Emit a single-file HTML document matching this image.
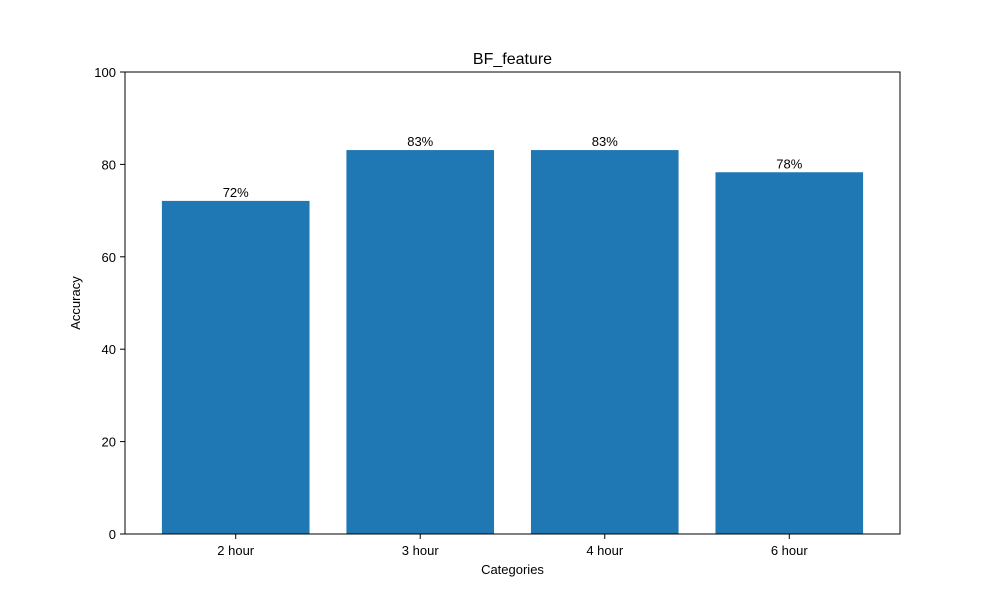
<!DOCTYPE html>
<html><head><meta charset="utf-8"><style>
body{margin:0;background:#fff;}
svg text{font-family:"Liberation Sans","DejaVu Sans",sans-serif;}
</style></head><body>
<svg id="chart" width="1000" height="600" viewBox="0 0 1000 600">
<rect width="1000" height="600" fill="#fff"/>
<g id="bars"></g>
<g id="axes"></g>
</svg>
<script>
const categories = ["2 hour","3 hour","4 hour","6 hour"];
const accuracy = [72.1, 83.1, 83.1, 78.3];
const valueLabels = ["72%","83%","83%","78%"];
const yTicks = [0,20,40,60,80,100];

const L=125,R=900,T=72,B=534;
const NS="http://www.w3.org/2000/svg";
const xScale=i=>L+(i+0.6)*(R-L)/(categories.length-1+1.2);
const yScale=v=>B-v/100*(B-T);
const bw=0.8*(R-L)/(categories.length-1+1.2);
function mk(tag,attrs,parent,text){const e=document.createElementNS(NS,tag);for(const k in attrs)e.setAttribute(k,attrs[k]);if(text!==undefined)e.textContent=text;parent.appendChild(e);return e;}
const bars=document.getElementById('bars'),axes=document.getElementById('axes');
categories.forEach((c,i)=>{
  const x=xScale(i),y=yScale(accuracy[i]);
  const r=mk('rect',{x:x-bw/2,y:y,width:bw,height:B-y,fill:'#1f77b4'},bars);
  
  
  const t=mk('text',{x:x,y:y-4,'text-anchor':'middle','font-size':13,fill:'#000'},bars,valueLabels[i]);
  
  
  mk('line',{x1:x,x2:x,y1:B,y2:B+5,stroke:'#000','stroke-width':1},axes);
  const xl=mk('text',{x:x,y:B+21,'text-anchor':'middle','font-size':13},axes,c);
  
  
});
yTicks.forEach(v=>{
  const y=yScale(v);
  mk('line',{x1:L-5,x2:L,y1:y,y2:y,stroke:'#000','stroke-width':1},axes);
  const yl=mk('text',{x:L-9,y:y+5,'text-anchor':'end','font-size':13},axes,String(v));
  
  
});
const f=mk('rect',{x:L,y:T,width:R-L,height:B-T,fill:'none',stroke:'#000','stroke-width':1},axes);


const tt=mk('text',{x:(L+R)/2,y:64,'text-anchor':'middle','font-size':16},axes,'BF_feature');


const xt=mk('text',{x:(L+R)/2,y:574,'text-anchor':'middle','font-size':13},axes,'Categories');


const yt=mk('text',{x:80,y:(T+B)/2,'text-anchor':'middle','font-size':13,transform:'rotate(-90 80 '+((T+B)/2)+')'},axes,'Accuracy');


</script>
</body></html>
